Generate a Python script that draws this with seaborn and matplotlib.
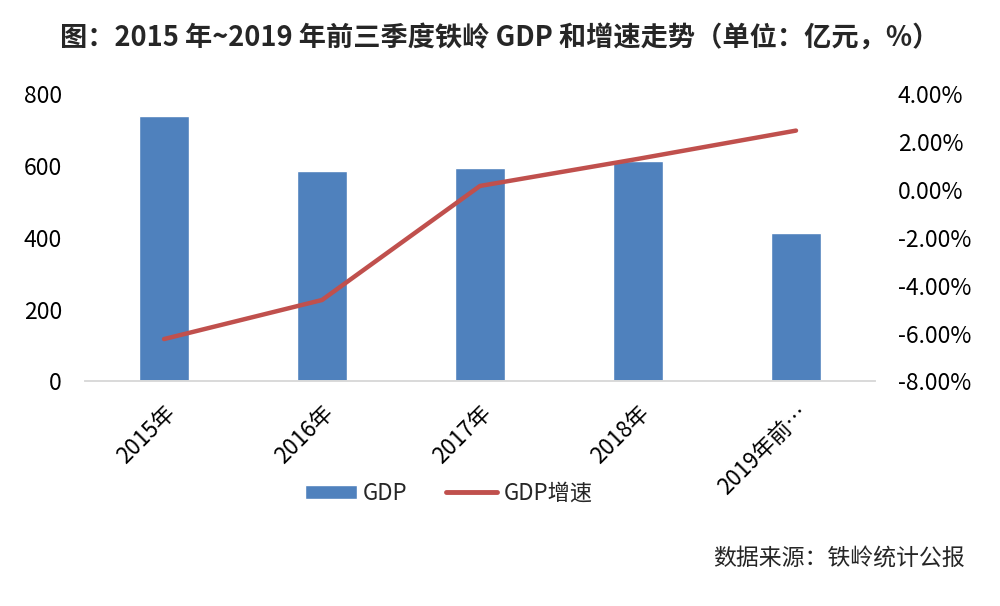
import matplotlib
matplotlib.use("Agg")
import matplotlib.pyplot as plt
import seaborn as sns
import numpy as np
import pandas as pd
from matplotlib.ticker import FuncFormatter
from matplotlib.patches import Patch
from matplotlib.lines import Line2D

sns.set_style("white")
plt.rcParams['font.family'] = ['Noto Sans CJK SC', 'DejaVu Sans']

# data
years = ["2015年", "2016年", "2017年", "2018年", "2019年前…"]
gdp = [739, 586, 595, 613, 413]          # 亿元
gdp_growth = [-6.23, -4.6, 0.16, 1.29, 2.47]  # %

bar_color = "#4F81BD"
line_color = "#C0504D"

df = pd.DataFrame({"year": years, "gdp": gdp, "growth": gdp_growth})

fig = plt.figure(figsize=(10, 6.06), dpi=100)
ax = fig.add_axes([0.085, 0.3705, 0.79, 0.4745])

sns.barplot(data=df, x="year", y="gdp", color=bar_color, width=0.32,
            saturation=1, ax=ax)
ax.set_ylim(0, 800)
ax.set_yticks([0, 200, 400, 600, 800])
ax.set_xlim(-0.5, len(years) - 0.5)
ax.set_xlabel("")
ax.set_ylabel("")

ax2 = ax.twinx()
sns.lineplot(x=np.arange(len(years)), y=df["growth"], color=line_color,
             linewidth=3.2, ax=ax2)
ax2.set_ylim(-8, 4)
ax2.set_yticks(np.arange(-8, 4.1, 2))
ax2.yaxis.set_major_formatter(FuncFormatter(lambda v, p: f"{v:.2f}%"))
ax2.set_ylabel("")

for a in (ax, ax2):
    for s in ["top", "left", "right"]:
        a.spines[s].set_visible(False)
    a.spines["bottom"].set_color("#d9d9d9")
    a.spines["bottom"].set_linewidth(1.2)
    a.tick_params(length=0, labelsize=16.5, colors="black")

ax.tick_params(axis="y", pad=16.5)
ax2.tick_params(axis="y", pad=16.5)
ax.tick_params(axis="x", pad=14)
ax.set_xticks(range(len(years)))
ax.set_xticklabels(years, rotation=45, ha="right", va="top",
                   rotation_mode="anchor", fontsize=16)

fig.text(0.5, 0.937, "图：2015 年~2019 年前三季度铁岭 GDP 和增速走势（单位：亿元，%）",
         ha="center", va="center", fontsize=19.6, fontweight="bold")

handles = [Patch(facecolor=bar_color, label="GDP"),
           Line2D([0], [0], color=line_color, linewidth=3.5, label="GDP增速")]
fig.legend(handles=handles, loc="center", bbox_to_anchor=(0.449, 0.186),
           ncol=2, frameon=False, fontsize=16, handlelength=2.3,
           handleheight=0.65, handletextpad=0.3, columnspacing=1.7)

fig.text(0.965, 0.079, "数据来源：铁岭统计公报", ha="right", va="center",
         fontsize=16.5)

fig.savefig("out.png", dpi=100, facecolor="white")
